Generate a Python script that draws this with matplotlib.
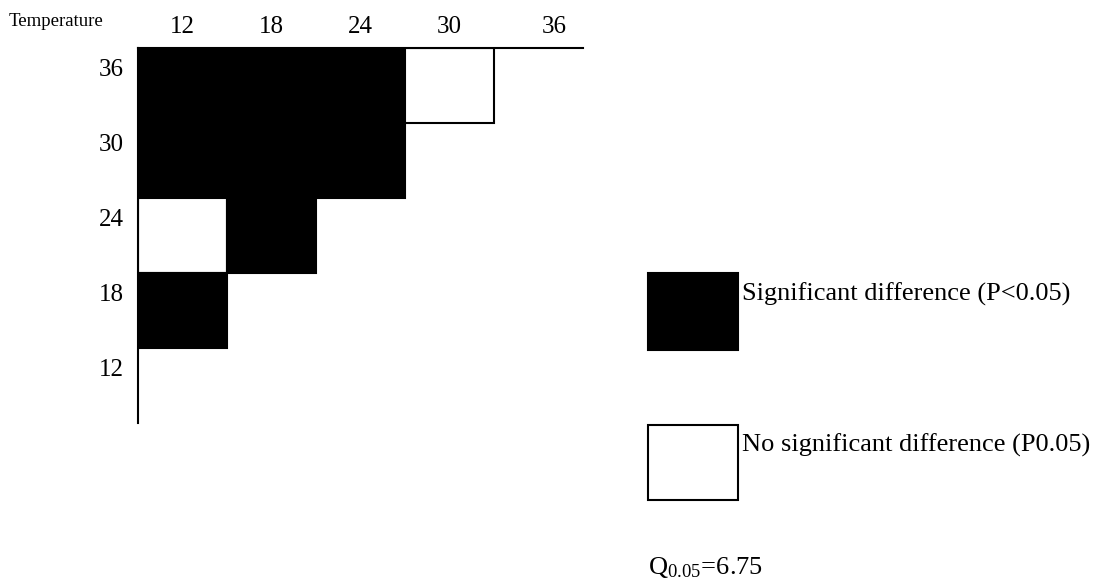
import matplotlib.pyplot as plt
from matplotlib.patches import Rectangle

plt.rcParams['font.family'] = ['Liberation Serif', 'DejaVu Serif']
plt.rcParams['mathtext.fontset'] = 'stix'

# pairwise comparison of temperatures
temps = [12, 18, 24, 30, 36]
row_temps = [36, 30, 24, 18, 12]
# 1 = significant, 0 = not significant, None = no comparison
sig = [
    [1, 1, 1, 0, None],
    [1, 1, 1, None, None],
    [0, 1, None, None, None],
    [1, None, None, None, None],
    [None, None, None, None, None],
]
sig_label = 'Significant difference (P<0.05)'
ns_label = 'No significant difference (P0.05)'
q_text = r'Q$_{\mathregular{0.05}}$=6.75'

W, H = 1106, 578
fig = plt.figure(figsize=(W / 100, H / 100), dpi=100)
ax = fig.add_axes([138 / W, 1 - 423 / H, 445 / W, 375 / H])

for i, row in enumerate(sig):
    for j, v in enumerate(row):
        if v is None:
            continue
        ax.add_patch(Rectangle((j, i), 1, 1, facecolor='black' if v else 'white',
                               edgecolor='black', lw=1.5))

ax.set_xlim(0, len(temps))
ax.set_ylim(len(row_temps), 0)
xpos = [j + 0.5 for j in range(len(temps))]
xpos[-1] += 0.18
ax.set_xticks(xpos)
ax.set_xticklabels(temps, fontsize=18)
ax.set_yticks([i + 0.26 for i in range(len(row_temps))])
ax.set_yticklabels(row_temps, fontsize=18)
ax.xaxis.tick_top()
ax.tick_params(axis='y', length=0, pad=10)
ax.tick_params(axis='x', length=0, pad=7)
for s in ['right', 'bottom']:
    ax.spines[s].set_visible(False)
for s in ['top', 'left']:
    ax.spines[s].set_linewidth(1.5)

fig.text(9 / W, 1 - 21 / H, 'Temperature', fontsize=13.5, va='center', ha='left')

# legend swatches
fig.add_artist(Rectangle((648 / W, 1 - 350 / H), 90 / W, 77 / H, transform=fig.transFigure,
                         facecolor='black', edgecolor='black', lw=1.5))
fig.add_artist(Rectangle((648 / W, 1 - 500 / H), 90 / W, 75 / H, transform=fig.transFigure,
                         facecolor='white', edgecolor='black', lw=1.5))
fig.text(742 / W, 1 - 294 / H, sig_label, fontsize=19, va='center', ha='left')
fig.text(742 / W, 1 - 445 / H, ns_label, fontsize=19, va='center', ha='left')
fig.text(648 / W, 1 - 567 / H, q_text, fontsize=19, va='center', ha='left')

fig.savefig('out.png', dpi=100)
